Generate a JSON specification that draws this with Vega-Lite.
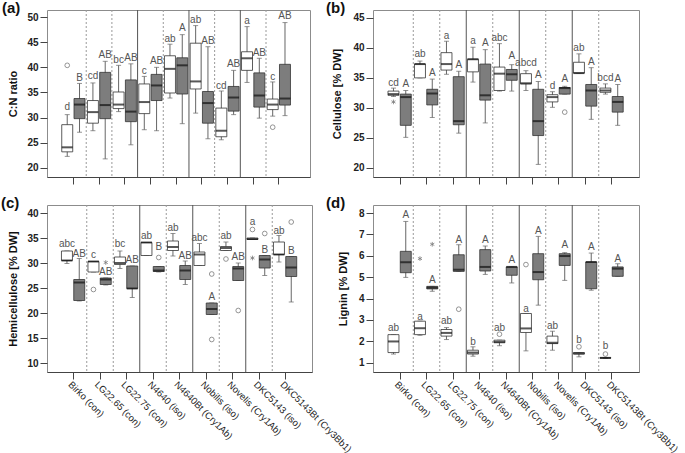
{
"$schema": "https://vega.github.io/schema/vega-lite/v6.json",
"background": "white",
"padding": {"left": 0, "top": 0, "right": 0, "bottom": 0},
"config": {
 "font": "Liberation Sans",
 "view": {"stroke": "#8c8c8c", "strokeWidth": 1},
 "title": {"anchor": "start", "frame": "group", "fontSize": 15, "fontWeight": "bold", "color": "#111", "baseline": "alphabetic", "offset": -6},
 "axisY": {"grid": false, "domain": false, "tickSize": 7, "tickColor": "#444", "labelFontWeight": "bold", "labelFontSize": 10, "labelColor": "#222", "labelPadding": 2, "labelOverlap": false, "titleFontSize": 11, "titleFontWeight": "bold", "titleColor": "#111"},
 "axisX": {"grid": false, "domainColor": "#444", "tickSize": 7, "tickColor": "#444", "labelAngle": 45, "labelAlign": "left", "labelBaseline": "top", "labelFontSize": 9.5, "labelColor": "#222", "labelPadding": 0, "labelOverlap": false, "labelLimit": 0}
},
"datasets": {
 "seps": [
  {"variety": "LG22.65 (con)", "line": "dotted"},
  {"variety": "LG22.75 (con)", "line": "dotted"},
  {"variety": "N4640 (iso)", "line": "solid"},
  {"variety": "N4640Bt (Cry1Ab)", "line": "dotted"},
  {"variety": "Nobilis (iso)", "line": "solid"},
  {"variety": "Novelis (Cry1Ab)", "line": "dotted"},
  {"variety": "DKC5143 (iso)", "line": "solid"},
  {"variety": "DKC5143Bt (Cry3Bb1)", "line": "dotted"}
 ],
 "boxes": [
  {"panel":"a","variety":"Birko (con)","grp":"1","lower":22.3,"q1":23.2,"median":24.1,"q3":28.6,"upper":30.6,"letter":"d","letter_y":32.2},
  {"panel":"a","variety":"Birko (con)","grp":"2","lower":27.1,"q1":29.8,"median":32.6,"q3":33.8,"upper":36.8,"letter":"B","letter_y":37.9},
  {"panel":"a","variety":"LG22.65 (con)","grp":"1","lower":27.4,"q1":28.9,"median":31.1,"q3":33.4,"upper":36.9,"letter":"cd","letter_y":38.2},
  {"panel":"a","variety":"LG22.65 (con)","grp":"2","lower":21.8,"q1":29.8,"median":32.5,"q3":39.0,"upper":41.2,"letter":"AB","letter_y":42.4},
  {"panel":"a","variety":"LG22.75 (con)","grp":"1","lower":31.2,"q1":31.8,"median":32.6,"q3":35.1,"upper":40.4,"letter":"bc","letter_y":41.4},
  {"panel":"a","variety":"LG22.75 (con)","grp":"2","lower":24.6,"q1":29.2,"median":31.2,"q3":37.5,"upper":40.7,"letter":"AB","letter_y":41.9},
  {"panel":"a","variety":"N4640 (iso)","grp":"1","lower":27.6,"q1":30.8,"median":33.1,"q3":36.7,"upper":38.2,"letter":"c","letter_y":39.2},
  {"panel":"a","variety":"N4640 (iso)","grp":"2","lower":27.4,"q1":33.4,"median":36.4,"q3":38.6,"upper":40.0,"letter":"AB","letter_y":41.2},
  {"panel":"a","variety":"N4640Bt (Cry1Ab)","grp":"1","lower":33.9,"q1":34.9,"median":39.7,"q3":42.3,"upper":44.6,"letter":"ab","letter_y":45.7},
  {"panel":"a","variety":"N4640Bt (Cry1Ab)","grp":"2","lower":28.8,"q1":34.7,"median":40.4,"q3":41.9,"upper":46.5,"letter":"A","letter_y":47.9},
  {"panel":"a","variety":"Nobilis (iso)","grp":"1","lower":30.9,"q1":35.7,"median":37.2,"q3":44.8,"upper":48.3,"letter":"ab","letter_y":49.5},
  {"panel":"a","variety":"Nobilis (iso)","grp":"2","lower":25.8,"q1":28.9,"median":32.9,"q3":35.2,"upper":44.1,"letter":"AB","letter_y":45.2},
  {"panel":"a","variety":"Novelis (Cry1Ab)","grp":"1","lower":25.6,"q1":26.2,"median":27.4,"q3":31.9,"upper":35.3,"letter":"cd","letter_y":36.3},
  {"panel":"a","variety":"Novelis (Cry1Ab)","grp":"2","lower":30.6,"q1":31.3,"median":34.0,"q3":36.2,"upper":39.4,"letter":"AB","letter_y":40.6},
  {"panel":"a","variety":"DKC5143 (iso)","grp":"1","lower":37.0,"q1":39.4,"median":41.8,"q3":43.1,"upper":48.1,"letter":"a","letter_y":49.2},
  {"panel":"a","variety":"DKC5143 (iso)","grp":"2","lower":29.9,"q1":32.1,"median":34.4,"q3":38.9,"upper":41.8,"letter":"AB","letter_y":42.9},
  {"panel":"a","variety":"DKC5143Bt (Cry3Bb1)","grp":"1","lower":30.3,"q1":31.6,"median":32.6,"q3":33.7,"upper":37.1,"letter":"c","letter_y":38.0},
  {"panel":"a","variety":"DKC5143Bt (Cry3Bb1)","grp":"2","lower":30.4,"q1":32.5,"median":33.8,"q3":40.6,"upper":48.9,"letter":"AB","letter_y":50.2},

  {"panel":"b","variety":"Birko (con)","grp":"1","lower":31.9,"q1":32.1,"median":32.3,"q3":32.8,"upper":33.3,"letter":"cd","letter_y":34.2},
  {"panel":"b","variety":"Birko (con)","grp":"2","lower":25.1,"q1":27.1,"median":31.8,"q3":32.3,"upper":32.9,"letter":"A","letter_y":34.0},
  {"panel":"b","variety":"LG22.65 (con)","grp":"1","lower":35.0,"q1":35.0,"median":37.3,"q3":37.3,"upper":37.8,"letter":"ab","letter_y":38.9},
  {"panel":"b","variety":"LG22.65 (con)","grp":"2","lower":28.4,"q1":30.5,"median":32.4,"q3":33.1,"upper":34.8,"letter":"A","letter_y":35.8},
  {"panel":"b","variety":"LG22.75 (con)","grp":"1","lower":35.6,"q1":36.3,"median":37.3,"q3":39.2,"upper":41.1,"letter":"a","letter_y":42.0},
  {"panel":"b","variety":"LG22.75 (con)","grp":"2","lower":25.8,"q1":27.2,"median":27.8,"q3":35.2,"upper":36.1,"letter":"A","letter_y":37.2},
  {"panel":"b","variety":"N4640 (iso)","grp":"1","lower":34.3,"q1":36.0,"median":38.1,"q3":38.1,"upper":40.1,"letter":"a","letter_y":41.1},
  {"panel":"b","variety":"N4640 (iso)","grp":"2","lower":27.5,"q1":31.3,"median":32.1,"q3":37.3,"upper":39.7,"letter":"A","letter_y":40.8},
  {"panel":"b","variety":"N4640Bt (Cry1Ab)","grp":"1","lower":32.8,"q1":32.9,"median":35.7,"q3":36.8,"upper":40.7,"letter":"abc","letter_y":41.6},
  {"panel":"b","variety":"N4640Bt (Cry1Ab)","grp":"2","lower":32.8,"q1":34.6,"median":35.6,"q3":36.4,"upper":37.2,"letter":"A","letter_y":38.6},
  {"panel":"b","variety":"Nobilis (iso)","grp":"1","lower":32.9,"q1":34.0,"median":34.1,"q3":35.7,"upper":36.2,"letter":"abcd","letter_y":37.5},
  {"panel":"b","variety":"Nobilis (iso)","grp":"2","lower":20.6,"q1":25.4,"median":27.8,"q3":33.1,"upper":34.4,"letter":"A","letter_y":35.4},
  {"panel":"b","variety":"Novelis (Cry1Ab)","grp":"1","lower":30.1,"q1":31.0,"median":31.8,"q3":32.2,"upper":32.7,"letter":"d","letter_y":33.7},
  {"panel":"b","variety":"Novelis (Cry1Ab)","grp":"2","lower":32.3,"q1":32.3,"median":33.3,"q3":33.4,"upper":33.6,"letter":"A","letter_y":34.8},
  {"panel":"b","variety":"DKC5143 (iso)","grp":"1","lower":35.8,"q1":35.8,"median":35.8,"q3":37.6,"upper":39.0,"letter":"ab","letter_y":39.9},
  {"panel":"b","variety":"DKC5143 (iso)","grp":"2","lower":28.1,"q1":30.3,"median":32.9,"q3":33.9,"upper":36.7,"letter":"A","letter_y":37.6},
  {"panel":"b","variety":"DKC5143Bt (Cry3Bb1)","grp":"1","lower":32.3,"q1":32.6,"median":32.9,"q3":33.3,"upper":34.0,"letter":"bcd","letter_y":34.9},
  {"panel":"b","variety":"DKC5143Bt (Cry3Bb1)","grp":"2","lower":27.1,"q1":29.3,"median":31.0,"q3":31.9,"upper":33.9,"letter":"A","letter_y":34.8},

  {"panel":"c","variety":"Birko (con)","grp":"1","lower":29.9,"q1":30.5,"median":30.5,"q3":32.4,"upper":32.4,"letter":"abc","letter_y":33.8},
  {"panel":"c","variety":"Birko (con)","grp":"2","lower":22.4,"q1":22.5,"median":26.1,"q3":26.7,"upper":30.9,"letter":"AB","letter_y":31.9},
  {"panel":"c","variety":"LG22.65 (con)","grp":"1","lower":28.2,"q1":28.2,"median":30.3,"q3":30.3,"upper":30.3,"letter":"c","letter_y":31.7},
  {"panel":"c","variety":"LG22.65 (con)","grp":"2","lower":25.6,"q1":25.7,"median":26.7,"q3":27.0,"upper":27.0,"letter":"AB","letter_y":28.3},
  {"panel":"c","variety":"LG22.75 (con)","grp":"1","lower":28.9,"q1":29.7,"median":30.0,"q3":31.2,"upper":32.4,"letter":"bc","letter_y":33.9},
  {"panel":"c","variety":"LG22.75 (con)","grp":"2","lower":23.1,"q1":24.9,"median":24.9,"q3":29.4,"upper":29.4,"letter":"AB","letter_y":30.7},
  {"panel":"c","variety":"N4640 (iso)","grp":"1","lower":31.5,"q1":31.5,"median":34.1,"q3":34.1,"upper":34.1,"letter":"ab","letter_y":35.5},
  {"panel":"c","variety":"N4640 (iso)","grp":"2","lower":28.2,"q1":28.3,"median":28.5,"q3":29.3,"upper":29.3,"letter":"B","letter_y":33.2},
  {"panel":"c","variety":"N4640Bt (Cry1Ab)","grp":"1","lower":31.4,"q1":32.5,"median":33.2,"q3":34.4,"upper":35.9,"letter":"ab","letter_y":37.0},
  {"panel":"c","variety":"N4640Bt (Cry1Ab)","grp":"2","lower":25.7,"q1":26.7,"median":28.5,"q3":29.5,"upper":30.4,"letter":"AB","letter_y":31.5},
  {"panel":"c","variety":"Nobilis (iso)","grp":"1","lower":29.5,"q1":29.5,"median":31.7,"q3":32.2,"upper":33.9,"letter":"abc","letter_y":35.0},
  {"panel":"c","variety":"Nobilis (iso)","grp":"2","lower":19.7,"q1":19.7,"median":20.8,"q3":22.0,"upper":22.0,"letter":"A","letter_y":23.2},
  {"panel":"c","variety":"Novelis (Cry1Ab)","grp":"1","lower":32.5,"q1":32.5,"median":33.0,"q3":33.3,"upper":34.2,"letter":"ab","letter_y":35.5},
  {"panel":"c","variety":"Novelis (Cry1Ab)","grp":"2","lower":26.5,"q1":26.5,"median":28.9,"q3":29.3,"upper":30.0,"letter":"AB","letter_y":31.2},
  {"panel":"c","variety":"DKC5143 (iso)","grp":"1","lower":34.7,"q1":34.7,"median":34.8,"q3":35.0,"upper":35.0,"letter":"a","letter_y":38.2},
  {"panel":"c","variety":"DKC5143 (iso)","grp":"2","lower":27.5,"q1":29.0,"median":30.7,"q3":31.5,"upper":31.5,"letter":"B","letter_y":32.6},
  {"panel":"c","variety":"DKC5143Bt (Cry3Bb1)","grp":"1","lower":30.2,"q1":31.7,"median":31.7,"q3":34.2,"upper":35.5,"letter":"ab","letter_y":36.5},
  {"panel":"c","variety":"DKC5143Bt (Cry3Bb1)","grp":"2","lower":22.2,"q1":27.3,"median":29.1,"q3":31.3,"upper":31.3,"letter":"B","letter_y":32.5},

  {"panel":"d","variety":"Birko (con)","grp":"1","lower":1.40,"q1":1.47,"median":1.99,"q3":2.31,"upper":2.31,"letter":"ab","letter_y":2.63},
  {"panel":"d","variety":"Birko (con)","grp":"2","lower":4.99,"q1":5.21,"median":5.70,"q3":6.21,"upper":7.61,"letter":"A","letter_y":7.89},
  {"panel":"d","variety":"LG22.65 (con)","grp":"1","lower":2.28,"q1":2.31,"median":2.61,"q3":2.94,"upper":2.94,"letter":"a","letter_y":3.14},
  {"panel":"d","variety":"LG22.65 (con)","grp":"2","lower":4.34,"q1":4.45,"median":4.51,"q3":4.57,"upper":4.57,"letter":"A","letter_y":4.85},
  {"panel":"d","variety":"LG22.75 (con)","grp":"1","lower":2.08,"q1":2.24,"median":2.39,"q3":2.55,"upper":2.64,"letter":"ab","letter_y":2.95},
  {"panel":"d","variety":"LG22.75 (con)","grp":"2","lower":5.27,"q1":5.27,"median":5.35,"q3":6.05,"upper":6.52,"letter":"A","letter_y":6.75},
  {"panel":"d","variety":"N4640 (iso)","grp":"1","lower":1.30,"q1":1.40,"median":1.47,"q3":1.58,"upper":1.74,"letter":"b","letter_y":1.97},
  {"panel":"d","variety":"N4640 (iso)","grp":"2","lower":5.13,"q1":5.29,"median":5.48,"q3":6.29,"upper":6.46,"letter":"A","letter_y":6.75},
  {"panel":"d","variety":"N4640Bt (Cry1Ab)","grp":"1","lower":1.79,"q1":1.93,"median":1.97,"q3":2.05,"upper":2.05,"letter":"ab","letter_y":2.63},
  {"panel":"d","variety":"N4640Bt (Cry1Ab)","grp":"2","lower":4.73,"q1":5.09,"median":5.48,"q3":5.48,"upper":5.48,"letter":"A","letter_y":5.82},
  {"panel":"d","variety":"Nobilis (iso)","grp":"1","lower":1.55,"q1":2.41,"median":2.60,"q3":3.30,"upper":3.30,"letter":"a","letter_y":3.53},
  {"panel":"d","variety":"Nobilis (iso)","grp":"2","lower":3.69,"q1":4.88,"median":5.24,"q3":6.10,"upper":6.91,"letter":"A","letter_y":7.14},
  {"panel":"d","variety":"Novelis (Cry1Ab)","grp":"1","lower":1.58,"q1":1.89,"median":1.93,"q3":2.24,"upper":2.47,"letter":"ab","letter_y":2.70},
  {"panel":"d","variety":"Novelis (Cry1Ab)","grp":"2","lower":4.85,"q1":5.55,"median":5.99,"q3":6.10,"upper":6.15,"letter":"A","letter_y":6.49},
  {"panel":"d","variety":"DKC5143 (iso)","grp":"1","lower":1.27,"q1":1.40,"median":1.43,"q3":1.47,"upper":1.47,"letter":"b","letter_y":2.08},
  {"panel":"d","variety":"DKC5143 (iso)","grp":"2","lower":4.39,"q1":4.46,"median":5.71,"q3":5.71,"upper":6.13,"letter":"A","letter_y":6.41},
  {"panel":"d","variety":"DKC5143Bt (Cry3Bb1)","grp":"1","lower":1.20,"q1":1.21,"median":1.22,"q3":1.23,"upper":1.23,"letter":"b","letter_y":1.77},
  {"panel":"d","variety":"DKC5143Bt (Cry3Bb1)","grp":"2","lower":5.04,"q1":5.04,"median":5.40,"q3":5.48,"upper":5.63,"letter":"A","letter_y":5.87}
 ],
 "outliers": [
  {"panel":"a","variety":"Birko (con)","grp":"1","value":40.4,"type":"outlier"},
  {"panel":"a","variety":"DKC5143Bt (Cry3Bb1)","grp":"1","value":28.1,"type":"outlier"},
  {"panel":"b","variety":"Birko (con)","grp":"1","value":31.0,"type":"extreme"},
  {"panel":"b","variety":"Novelis (Cry1Ab)","grp":"2","value":29.3,"type":"outlier"},
  {"panel":"c","variety":"LG22.65 (con)","grp":"1","value":24.7,"type":"outlier"},
  {"panel":"c","variety":"LG22.65 (con)","grp":"2","value":30.1,"type":"extreme"},
  {"panel":"c","variety":"N4640 (iso)","grp":"2","value":31.1,"type":"outlier"},
  {"panel":"c","variety":"Nobilis (iso)","grp":"2","value":27.8,"type":"outlier"},
  {"panel":"c","variety":"Nobilis (iso)","grp":"2","value":14.7,"type":"outlier"},
  {"panel":"c","variety":"Novelis (Cry1Ab)","grp":"1","value":30.8,"type":"outlier"},
  {"panel":"c","variety":"Novelis (Cry1Ab)","grp":"2","value":20.5,"type":"outlier"},
  {"panel":"c","variety":"DKC5143 (iso)","grp":"1","value":36.7,"type":"outlier"},
  {"panel":"c","variety":"DKC5143 (iso)","grp":"1","value":31.0,"type":"extreme"},
  {"panel":"c","variety":"DKC5143 (iso)","grp":"2","value":35.9,"type":"outlier"},
  {"panel":"c","variety":"DKC5143Bt (Cry3Bb1)","grp":"2","value":38.2,"type":"outlier"},
  {"panel":"d","variety":"LG22.65 (con)","grp":"1","value":5.87,"type":"extreme"},
  {"panel":"d","variety":"LG22.65 (con)","grp":"2","value":6.54,"type":"extreme"},
  {"panel":"d","variety":"LG22.75 (con)","grp":"2","value":3.5,"type":"outlier"},
  {"panel":"d","variety":"N4640Bt (Cry1Ab)","grp":"1","value":2.33,"type":"outlier"},
  {"panel":"d","variety":"Nobilis (iso)","grp":"1","value":5.59,"type":"outlier"},
  {"panel":"d","variety":"DKC5143 (iso)","grp":"1","value":1.74,"type":"outlier"},
  {"panel":"d","variety":"DKC5143Bt (Cry3Bb1)","grp":"1","value":1.40,"type":"outlier"}
 ]
},
"columns": 2,
"bounds": "flush",
"spacing": {"row": 28, "column": 61},
"resolve": {"scale": {"x": "independent", "y": "independent"}},
"concat": [
 {
  "width": 263, "height": 167,
  "title": {"text": "(a)", "dx": -45},
  "layer": [
   {"data": {"name": "seps"}, "transform": [{"filter": "datum.line === 'dotted'"}],
    "mark": {"type": "rule", "color": "#9a9a9a", "strokeDash": [2, 2], "strokeWidth": 1},
    "encoding": {"x": {"field": "variety", "type": "nominal", "bandPosition": 0, "sort": null, "title": null, "scale": {"domain": ["Birko (con)","LG22.65 (con)","LG22.75 (con)","N4640 (iso)","N4640Bt (Cry1Ab)","Nobilis (iso)","Novelis (Cry1Ab)","DKC5143 (iso)","DKC5143Bt (Cry3Bb1)"], "paddingInner": 0, "paddingOuter": 0.62, "align": 0.425}, "axis": {"labels": false}}}},
   {"data": {"name": "seps"}, "transform": [{"filter": "datum.line === 'solid'"}],
    "mark": {"type": "rule", "color": "#555", "strokeWidth": 1},
    "encoding": {"x": {"field": "variety", "type": "nominal", "bandPosition": 0, "sort": null, "title": null, "axis": {"labels": false}}}},
   {"data": {"name": "boxes"}, "transform": [{"filter": "datum.panel === 'a'"}],
    "layer": [
     {"mark": {"type": "rule", "color": "#666", "strokeWidth": 1},
      "encoding": {"y": {"field": "lower", "type": "quantitative", "title": "C:N ratio", "scale": {"domain": [18.2, 51.4], "nice": false, "zero": false}, "axis": {"values": [20,25,30,35,40,45,50], "titlePadding": 8}}, "y2": {"field": "upper"}}},
     {"mark": {"type": "tick", "color": "#666", "size": 5, "thickness": 1}, "encoding": {"y": {"field": "lower", "type": "quantitative", "title": "C:N ratio", "axis": {"values": [20,25,30,35,40,45,50], "titlePadding": 8}}}},
     {"mark": {"type": "tick", "color": "#666", "size": 5, "thickness": 1}, "encoding": {"y": {"field": "upper", "type": "quantitative", "title": "C:N ratio", "axis": {"values": [20,25,30,35,40,45,50], "titlePadding": 8}}}},
     {"mark": {"type": "bar", "stroke": "#333", "strokeWidth": 0.8},
      "encoding": {"y": {"field": "q1", "type": "quantitative", "title": "C:N ratio", "axis": {"values": [20,25,30,35,40,45,50], "titlePadding": 8}}, "y2": {"field": "q3"}, "fill": {"field": "grp", "type": "nominal", "scale": {"domain": ["1","2"], "range": ["#ffffff","#7d7d7d"]}, "legend": null}}},
     {"mark": {"type": "tick", "color": "#111", "size": 11, "thickness": 2}, "encoding": {"y": {"field": "median", "type": "quantitative", "title": "C:N ratio", "axis": {"values": [20,25,30,35,40,45,50], "titlePadding": 8}}}},
     {"mark": {"type": "text", "fontSize": 10, "color": "#555", "baseline": "middle"}, "encoding": {"y": {"field": "letter_y", "type": "quantitative", "title": "C:N ratio", "axis": {"values": [20,25,30,35,40,45,50], "titlePadding": 8}}, "text": {"field": "letter"}}}
    ],
    "encoding": {"x": {"field": "variety", "type": "nominal", "sort": null, "title": null, "axis": {"labels": false}}, "xOffset": {"field": "grp", "type": "nominal", "scale": {"domain": ["1","2"], "paddingInner": 0.106, "paddingOuter": 0.098}}}},
   {"data": {"name": "outliers"}, "transform": [{"filter": "datum.panel === 'a'"}],
    "mark": {"type": "point", "filled": false, "color": "#444", "strokeWidth": 0.8, "size": 22},
    "encoding": {"x": {"field": "variety", "type": "nominal", "sort": null, "title": null, "axis": {"labels": false}}, "xOffset": {"field": "grp", "type": "nominal"}, "y": {"field": "value", "type": "quantitative", "title": "C:N ratio", "axis": {"values": [20,25,30,35,40,45,50], "titlePadding": 8}},
     "shape": {"field": "type", "type": "nominal", "scale": {"domain": ["outlier","extreme"], "range": ["circle","M0,-1L0,1M-0.87,-0.5L0.87,0.5M-0.87,0.5L0.87,-0.5"]}, "legend": null}}}
  ]
 },
 {
  "width": 266, "height": 167,
  "title": {"text": "(b)", "dx": -47},
  "layer": [
   {"data": {"name": "seps"}, "transform": [{"filter": "datum.line === 'dotted'"}],
    "mark": {"type": "rule", "color": "#9a9a9a", "strokeDash": [2, 2], "strokeWidth": 1},
    "encoding": {"x": {"field": "variety", "type": "nominal", "bandPosition": 0, "sort": null, "title": null, "scale": {"domain": ["Birko (con)","LG22.65 (con)","LG22.75 (con)","N4640 (iso)","N4640Bt (Cry1Ab)","Nobilis (iso)","Novelis (Cry1Ab)","DKC5143 (iso)","DKC5143Bt (Cry3Bb1)"], "paddingInner": 0, "paddingOuter": 0.52}, "axis": {"labels": false}}}},
   {"data": {"name": "seps"}, "transform": [{"filter": "datum.line === 'solid'"}],
    "mark": {"type": "rule", "color": "#555", "strokeWidth": 1},
    "encoding": {"x": {"field": "variety", "type": "nominal", "bandPosition": 0, "sort": null, "title": null, "axis": {"labels": false}}}},
   {"data": {"name": "boxes"}, "transform": [{"filter": "datum.panel === 'b'"}],
    "layer": [
     {"mark": {"type": "rule", "color": "#666", "strokeWidth": 1},
      "encoding": {"y": {"field": "lower", "type": "quantitative", "title": "Cellulose [% DW]", "scale": {"domain": [18.5, 46.3], "nice": false, "zero": false}, "axis": {"values": [20,25,30,35,40,45], "titlePadding": 10}}, "y2": {"field": "upper"}}},
     {"mark": {"type": "tick", "color": "#666", "size": 5, "thickness": 1}, "encoding": {"y": {"field": "lower", "type": "quantitative", "title": "Cellulose [% DW]", "axis": {"values": [20,25,30,35,40,45], "titlePadding": 10}}}},
     {"mark": {"type": "tick", "color": "#666", "size": 5, "thickness": 1}, "encoding": {"y": {"field": "upper", "type": "quantitative", "title": "Cellulose [% DW]", "axis": {"values": [20,25,30,35,40,45], "titlePadding": 10}}}},
     {"mark": {"type": "bar", "stroke": "#333", "strokeWidth": 0.8},
      "encoding": {"y": {"field": "q1", "type": "quantitative", "title": "Cellulose [% DW]", "axis": {"values": [20,25,30,35,40,45], "titlePadding": 10}}, "y2": {"field": "q3"}, "fill": {"field": "grp", "type": "nominal", "scale": {"domain": ["1","2"], "range": ["#ffffff","#7d7d7d"]}, "legend": null}}},
     {"mark": {"type": "tick", "color": "#111", "size": 11, "thickness": 2}, "encoding": {"y": {"field": "median", "type": "quantitative", "title": "Cellulose [% DW]", "axis": {"values": [20,25,30,35,40,45], "titlePadding": 10}}}},
     {"mark": {"type": "text", "fontSize": 10, "color": "#555", "baseline": "middle"}, "encoding": {"y": {"field": "letter_y", "type": "quantitative", "title": "Cellulose [% DW]", "axis": {"values": [20,25,30,35,40,45], "titlePadding": 10}}, "text": {"field": "letter"}}}
    ],
    "encoding": {"x": {"field": "variety", "type": "nominal", "sort": null, "title": null, "axis": {"labels": false}}, "xOffset": {"field": "grp", "type": "nominal", "scale": {"domain": ["1","2"], "paddingInner": 0.106, "paddingOuter": 0.098}}}},
   {"data": {"name": "outliers"}, "transform": [{"filter": "datum.panel === 'b'"}],
    "mark": {"type": "point", "filled": false, "color": "#444", "strokeWidth": 0.8, "size": 22},
    "encoding": {"x": {"field": "variety", "type": "nominal", "sort": null, "title": null, "axis": {"labels": false}}, "xOffset": {"field": "grp", "type": "nominal"}, "y": {"field": "value", "type": "quantitative", "title": "Cellulose [% DW]", "axis": {"values": [20,25,30,35,40,45], "titlePadding": 10}},
     "shape": {"field": "type", "type": "nominal", "scale": {"domain": ["outlier","extreme"], "range": ["circle","M0,-1L0,1M-0.87,-0.5L0.87,0.5M-0.87,0.5L0.87,-0.5"]}, "legend": null}}}
  ]
 },
 {
  "width": 265, "height": 167,
  "title": {"text": "(c)", "dx": -46},
  "layer": [
   {"data": {"name": "seps"}, "transform": [{"filter": "datum.line === 'dotted'"}],
    "mark": {"type": "rule", "color": "#9a9a9a", "strokeDash": [2, 2], "strokeWidth": 1},
    "encoding": {"x": {"field": "variety", "type": "nominal", "bandPosition": 0, "sort": null, "title": null, "scale": {"domain": ["Birko (con)","LG22.65 (con)","LG22.75 (con)","N4640 (iso)","N4640Bt (Cry1Ab)","Nobilis (iso)","Novelis (Cry1Ab)","DKC5143 (iso)","DKC5143Bt (Cry3Bb1)"], "paddingInner": 0, "paddingOuter": 0.5}}}},
   {"data": {"name": "seps"}, "transform": [{"filter": "datum.line === 'solid'"}],
    "mark": {"type": "rule", "color": "#555", "strokeWidth": 1},
    "encoding": {"x": {"field": "variety", "type": "nominal", "bandPosition": 0, "sort": null, "title": null}}},
   {"data": {"name": "boxes"}, "transform": [{"filter": "datum.panel === 'c'"}],
    "layer": [
     {"mark": {"type": "rule", "color": "#666", "strokeWidth": 1},
      "encoding": {"y": {"field": "lower", "type": "quantitative", "title": "Hemicellulose [% DW]", "scale": {"domain": [8.2, 41.6], "nice": false, "zero": false}, "axis": {"values": [10,15,20,25,30,35,40], "titlePadding": 8}}, "y2": {"field": "upper"}}},
     {"mark": {"type": "tick", "color": "#666", "size": 5, "thickness": 1}, "encoding": {"y": {"field": "lower", "type": "quantitative", "title": "Hemicellulose [% DW]", "axis": {"values": [10,15,20,25,30,35,40], "titlePadding": 8}}}},
     {"mark": {"type": "tick", "color": "#666", "size": 5, "thickness": 1}, "encoding": {"y": {"field": "upper", "type": "quantitative", "title": "Hemicellulose [% DW]", "axis": {"values": [10,15,20,25,30,35,40], "titlePadding": 8}}}},
     {"mark": {"type": "bar", "stroke": "#333", "strokeWidth": 0.8},
      "encoding": {"y": {"field": "q1", "type": "quantitative", "title": "Hemicellulose [% DW]", "axis": {"values": [10,15,20,25,30,35,40], "titlePadding": 8}}, "y2": {"field": "q3"}, "fill": {"field": "grp", "type": "nominal", "scale": {"domain": ["1","2"], "range": ["#ffffff","#7d7d7d"]}, "legend": null}}},
     {"mark": {"type": "tick", "color": "#111", "size": 11, "thickness": 2}, "encoding": {"y": {"field": "median", "type": "quantitative", "title": "Hemicellulose [% DW]", "axis": {"values": [10,15,20,25,30,35,40], "titlePadding": 8}}}},
     {"mark": {"type": "text", "fontSize": 10, "color": "#555", "baseline": "middle"}, "encoding": {"y": {"field": "letter_y", "type": "quantitative", "title": "Hemicellulose [% DW]", "axis": {"values": [10,15,20,25,30,35,40], "titlePadding": 8}}, "text": {"field": "letter"}}}
    ],
    "encoding": {"x": {"field": "variety", "type": "nominal", "sort": null, "title": null}, "xOffset": {"field": "grp", "type": "nominal", "scale": {"domain": ["1","2"], "paddingInner": 0.106, "paddingOuter": 0.098}}}},
   {"data": {"name": "outliers"}, "transform": [{"filter": "datum.panel === 'c'"}],
    "mark": {"type": "point", "filled": false, "color": "#444", "strokeWidth": 0.8, "size": 22},
    "encoding": {"x": {"field": "variety", "type": "nominal", "sort": null, "title": null}, "xOffset": {"field": "grp", "type": "nominal"}, "y": {"field": "value", "type": "quantitative", "title": "Hemicellulose [% DW]", "axis": {"values": [10,15,20,25,30,35,40], "titlePadding": 8}},
     "shape": {"field": "type", "type": "nominal", "scale": {"domain": ["outlier","extreme"], "range": ["circle","M0,-1L0,1M-0.87,-0.5L0.87,0.5M-0.87,0.5L0.87,-0.5"]}, "legend": null}}}
  ]
 },
 {
  "width": 266, "height": 167,
  "title": {"text": "(d)", "dx": -47},
  "layer": [
   {"data": {"name": "seps"}, "transform": [{"filter": "datum.line === 'dotted'"}],
    "mark": {"type": "rule", "color": "#9a9a9a", "strokeDash": [2, 2], "strokeWidth": 1},
    "encoding": {"x": {"field": "variety", "type": "nominal", "bandPosition": 0, "sort": null, "title": null, "scale": {"domain": ["Birko (con)","LG22.65 (con)","LG22.75 (con)","N4640 (iso)","N4640Bt (Cry1Ab)","Nobilis (iso)","Novelis (Cry1Ab)","DKC5143 (iso)","DKC5143Bt (Cry3Bb1)"], "paddingInner": 0, "paddingOuter": 0.52}}}},
   {"data": {"name": "seps"}, "transform": [{"filter": "datum.line === 'solid'"}],
    "mark": {"type": "rule", "color": "#555", "strokeWidth": 1},
    "encoding": {"x": {"field": "variety", "type": "nominal", "bandPosition": 0, "sort": null, "title": null}}},
   {"data": {"name": "boxes"}, "transform": [{"filter": "datum.panel === 'd'"}],
    "layer": [
     {"mark": {"type": "rule", "color": "#666", "strokeWidth": 1},
      "encoding": {"y": {"field": "lower", "type": "quantitative", "title": "Lignin [% DW]", "scale": {"domain": [0.56, 8.38], "nice": false, "zero": false}, "axis": {"values": [1,2,3,4,5,6,7,8], "titlePadding": 10}}, "y2": {"field": "upper"}}},
     {"mark": {"type": "tick", "color": "#666", "size": 5, "thickness": 1}, "encoding": {"y": {"field": "lower", "type": "quantitative", "title": "Lignin [% DW]", "axis": {"values": [1,2,3,4,5,6,7,8], "titlePadding": 10}}}},
     {"mark": {"type": "tick", "color": "#666", "size": 5, "thickness": 1}, "encoding": {"y": {"field": "upper", "type": "quantitative", "title": "Lignin [% DW]", "axis": {"values": [1,2,3,4,5,6,7,8], "titlePadding": 10}}}},
     {"mark": {"type": "bar", "stroke": "#333", "strokeWidth": 0.8},
      "encoding": {"y": {"field": "q1", "type": "quantitative", "title": "Lignin [% DW]", "axis": {"values": [1,2,3,4,5,6,7,8], "titlePadding": 10}}, "y2": {"field": "q3"}, "fill": {"field": "grp", "type": "nominal", "scale": {"domain": ["1","2"], "range": ["#ffffff","#7d7d7d"]}, "legend": null}}},
     {"mark": {"type": "tick", "color": "#111", "size": 11, "thickness": 2}, "encoding": {"y": {"field": "median", "type": "quantitative", "title": "Lignin [% DW]", "axis": {"values": [1,2,3,4,5,6,7,8], "titlePadding": 10}}}},
     {"mark": {"type": "text", "fontSize": 10, "color": "#555", "baseline": "middle"}, "encoding": {"y": {"field": "letter_y", "type": "quantitative", "title": "Lignin [% DW]", "axis": {"values": [1,2,3,4,5,6,7,8], "titlePadding": 10}}, "text": {"field": "letter"}}}
    ],
    "encoding": {"x": {"field": "variety", "type": "nominal", "sort": null, "title": null}, "xOffset": {"field": "grp", "type": "nominal", "scale": {"domain": ["1","2"], "paddingInner": 0.106, "paddingOuter": 0.098}}}},
   {"data": {"name": "outliers"}, "transform": [{"filter": "datum.panel === 'd'"}],
    "mark": {"type": "point", "filled": false, "color": "#444", "strokeWidth": 0.8, "size": 22},
    "encoding": {"x": {"field": "variety", "type": "nominal", "sort": null, "title": null}, "xOffset": {"field": "grp", "type": "nominal"}, "y": {"field": "value", "type": "quantitative", "title": "Lignin [% DW]", "axis": {"values": [1,2,3,4,5,6,7,8], "titlePadding": 10}},
     "shape": {"field": "type", "type": "nominal", "scale": {"domain": ["outlier","extreme"], "range": ["circle","M0,-1L0,1M-0.87,-0.5L0.87,0.5M-0.87,0.5L0.87,-0.5"]}, "legend": null}}}
  ]
 }
]
}
